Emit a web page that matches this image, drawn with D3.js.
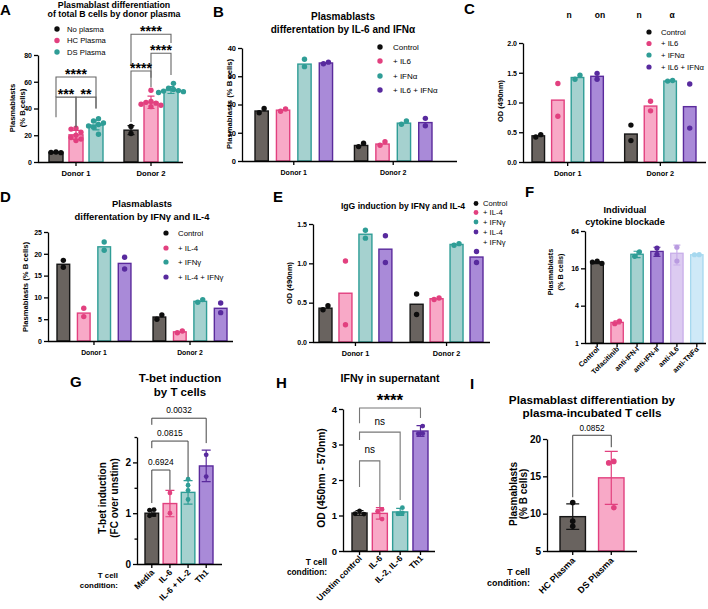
<!DOCTYPE html>
<html><head><meta charset="utf-8">
<script src="https://cdn.jsdelivr.net/npm/d3@7"></script>
<style>body{margin:0;background:#fff}svg{display:block}text{font-family:"Liberation Sans",Arial,Helvetica,sans-serif}</style>
</head><body><svg id="c" width="708" height="609"></svg>
<script>
// ================= DATA =================
const donors = ["Donor 1", "Donor 2"];

// Panel A
const seriesA = ["No plasma", "HC Plasma", "DS Plasma"];
const meanA = [[7.2, 23.8], [20.3, 44.6], [27.6, 53.8]];
const sdA = [[0.4, 3.4], [3.4, 4.6], [3.6, 2.6]];
const ptsA = [
  [[7.0, 7.5, 7.2], [26.5, 21.3]],
  [[25.2, 24.6, 22.2, 20.0, 18.3, 17.2, 16.0], [53.6, 45.2, 44.6, 44.0, 43.2, 42.4, 41.4]],
  [[32.4, 30.6, 29.2, 28.0, 27.0, 26.0, 20.8], [58.8, 55.2, 54.2, 53.4, 53.0, 52.6, 52.0]]
];
const ticksA = [0, 20, 40, 60, 80];
const sigA = [
  { group: 0, from: 0, to: 2, label: "****", top: 63.5, endFrom: 48.5, endTo: 40 },
  { group: 0, from: 0, to: 1, label: "***", top: 48.5, endFrom: 33.5, endTo: 26 },
  { group: 0, from: 1, to: 2, label: "**", top: 48.5, endFrom: 26, endTo: 40 },
  { group: 1, from: 0, to: 2, label: "****", top: 95.5, endFrom: 72, endTo: 89 },
  { group: 1, from: 1, to: 2, label: "****", top: 81.3, endFrom: 63, endTo: 65 },
  { group: 1, from: 0, to: 1, label: "****", top: 68, endFrom: 30, endTo: 56 }
];

// Panel B
const seriesB = ["Control", "+ IL6", "+ IFNα", "+ IL6 + IFNα"];
const meanB = [[17.7, 5.5], [18.0, 6.0], [34.3, 13.4], [34.7, 13.6]];
const ptsB = [[[17.1, 18.6], [5.1, 6.3]], [[17.6, 18.4], [5.6, 6.8]], [[36.0, 33.4], [13.0, 14.2]], [[34.4, 35.0], [15.1, 12.5]]];
const ticksB = [0, 10, 20, 30, 40];

// Panel C
const seriesC = ["Control", "+ IL6", "+ IFNα", "+ IL6 + IFNα"];
const meanC = [[0.44, 0.47], [1.04, 0.94], [1.42, 1.36], [1.44, 0.93]];
const ptsC = [[[0.42, 0.46], [0.62, 0.36]], [[1.32, 0.77], [1.02, 0.86]], [[1.39, 1.46], [1.36, 1.37]], [[1.49, 1.39], [1.31, 0.57]]];
const ticksC = [0, 0.5, 1.0, 1.5, 2.0];
const titleFragsC = ["n", "on", "n", "α"];

// Panel D
const seriesD = ["Control", "+ IL-4", "+ IFNγ", "+ IL-4 + IFNγ"];
const meanD = [[17.6, 5.5], [6.4, 2.1], [21.6, 9.1], [17.8, 7.5]];
const ptsD = [[[18.5, 16.9], [5.0, 6.0]], [[7.5, 5.6], [1.9, 2.3]], [[22.7, 20.8], [8.9, 9.5]], [[19.2, 16.5], [8.7, 6.5]]];
const ticksD = [0, 5, 10, 15, 20, 25];

// Panel E
const legendE = ["Control", "+ IL-4", "+ IFNγ", "+ IL-4", "+ IFNγ"];
const meanE = [[0.43, 0.48], [0.62, 0.55], [1.37, 1.24], [1.18, 1.08]];
const ptsE = [[[0.41, 0.46], [0.61, 0.35]], [[1.03, 0.22], [0.54, 0.56]], [[1.42, 1.32], [1.23, 1.25]], [[1.35, 1.01], [1.15, 1.01]]];
const ticksE = [0, 0.5, 1.0, 1.5];

// Panel F
const catsF = ["Control", "Tofacitinib", "anti-IFN-I", "anti-IFN-II", "anti-IL6", "anti-TNFα"];
const meanF = [19.8, 2.15, 27, 30, 28, 26.5];
const sdF = [0.8, 0.12, 3.2, 5.0, 9.9, 0.3];
const ptsF = [[19.2, 20.2, 20.9], [2.05, 2.25], [29.5, 25], [34, 27], [35, 21], [26.5, 26.6]];
const ticksF = [1, 4, 16, 64];

// Panel G
const catsG = ["Media", "IL-6", "IL-6 + IL-2", "Th1"];
const meanG = [1.0, 1.19, 1.41, 1.93];
const sdG = [0.06, 0.26, 0.23, 0.31];
const ptsG = [[1.07, 1.06, 0.97, 0.95], [1.40, 1.00], [1.67, 1.55, 1.45, 1.27], [2.15, 1.72]];
const ticksG = [0, 1, 2];
const minorG = [0.5, 1.5, 2.5];
const sigG = [
  { to: 3, label: "0.0032", top: 2.87, endFrom: 2.74, endTo: 2.38 },
  { to: 2, label: "0.0815", top: 2.42, endFrom: 2.28, endTo: 1.71 },
  { to: 1, label: "0.6924", top: 1.85, endFrom: 1.2, endTo: 1.46 }
];

// Panel H
const catsH = ["Unstim control", "IL-6", "IL-2, IL-6", "Th1"];
const meanH = [1.07, 1.06, 1.10, 3.38];
const sdH = [0.07, 0.16, 0.10, 0.15];
const ptsH = [[1.13, 1.04, 1.05], [1.17, 1.12, 0.90], [1.22, 1.07, 1.05], [3.52, 3.30, 3.31]];
const ticksH = [0, 1, 2, 3, 4];
const sigH = [
  { to: 3, label: "****", top: 4.03, endFrom: 3.6, endTo: 3.75 },
  { to: 2, label: "ns", top: 3.35, endFrom: 3.13, endTo: 1.44 },
  { to: 1, label: "ns", top: 2.54, endFrom: 1.8, endTo: 1.24 }
];

// Panel I
const catsI = ["HC Plasma", "DS Plasma"];
const meanI = [9.6, 14.8];
const sdI = [1.7, 3.55];
const ptsI = [[11.5, 9.0, 8.3], [17.0, 16.8, 10.8]];
const ticksI = [5, 10, 15, 20];
const sigI = [{ to: 1, label: "0.0852", top: 20.5, endFrom: 12.2, endTo: 18.9 }];

// ================= STYLE =================
const PAL = {
  gray: { fill: "#69635f", stroke: "#151515", pt: "#0d0d0d" },
  pink: { fill: "#f8a9c7", stroke: "#e2407f", pt: "#e2407f" },
  teal: { fill: "#a5d1cf", stroke: "#2f9d96", pt: "#2f9d96" },
  purple: { fill: "#a98ad8", stroke: "#5a2a9c", pt: "#582a9e" },
  lav: { fill: "#dccbf1", stroke: "#c8aee9", pt: "#b99be0" },
  sky: { fill: "#cfe9f7", stroke: "#a6d8ef", pt: "#a6d8ef" }
};
const C4 = [PAL.gray, PAL.pink, PAL.teal, PAL.purple];
const svg = d3.select("#c");

function T(g, x, y, s, o = {}) {
  const t = g.append("text").attr("x", x).attr("y", y).text(s)
    .attr("font-size", o.fs || 8).attr("font-weight", o.bold ? "bold" : "normal")
    .attr("text-anchor", o.anchor || "start").attr("fill", o.fill || "#000");
  if (o.rot) t.attr("transform", `rotate(${o.rot},${x},${y})`);
  return t;
}
function yAxis(g, y, x, ticks, fmt, fs, opts = {}) {
  const ax = d3.axisLeft(y).tickValues(ticks).tickFormat(fmt).tickSize(opts.tick || 4).tickSizeOuter(0).tickPadding(opts.pad || 2);
  const a = g.append("g").attr("transform", `translate(${x},0)`).call(ax);
  a.attr("font-family", null).attr("font-size", null);
  a.select(".domain").attr("stroke", "#000").attr("stroke-width", 1.3);
  a.selectAll(".tick line").attr("stroke", "#000").attr("stroke-width", 1.3);
  a.selectAll(".tick text").attr("font-size", fs).attr("font-weight", "bold").attr("fill", "#000");
  if (opts.minor) {
    const m = d3.axisLeft(y).tickValues(opts.minor).tickFormat("").tickSize(2.5).tickSizeOuter(0);
    const b = g.append("g").attr("transform", `translate(${x},0)`).call(m);
    b.select(".domain").remove();
    b.selectAll(".tick line").attr("stroke", "#000").attr("stroke-width", 1.3);
  }
}
function xAxis(g, xb, y0, x0, x1, fs, o = {}) {
  const ax = d3.axisBottom(xb).tickSize(4).tickSizeOuter(0);
  const a = g.append("g").attr("transform", `translate(0,${y0})`).call(ax);
  a.attr("font-family", null).attr("font-size", null);
  a.select(".domain").attr("d", `M${x0},0.5H${x1}`).attr("stroke", "#000").attr("stroke-width", 1.3);
  a.selectAll(".tick line").attr("stroke", "#000").attr("stroke-width", 1.3);
  const t = a.selectAll(".tick text").attr("font-size", fs).attr("font-weight", "bold").attr("fill", "#000");
  if (o.rot) t.attr("text-anchor", "end").attr("y", 0).attr("dy", 0).attr("transform", `translate(${o.dx},${o.dy}) rotate(-45)`);
  else t.attr("y", o.ly || 13).attr("dy", 0);
}
function swarm(ys, r) {
  const d = 2 * r * 0.92;
  const order = ys.map((y, i) => ({ y, i })).sort((a, b) => a.y - b.y);
  const placed = [];
  order.forEach(p => {
    for (let k = 0; k < 30; k++) {
      const off = k === 0 ? 0 : (k % 2 ? -1 : 1) * Math.ceil(k / 2) * d;
      if (placed.every(q => Math.hypot(q.x - off, q.y - p.y) >= d - 0.01)) { placed.push({ x: off, y: p.y }); break; }
    }
  });
  const ext = d3.extent(placed, q => q.x);
  const c = (ext[0] + ext[1]) / 2;
  placed.forEach(q => q.x -= c);
  return placed;
}
function bar(g, y, cx, w, v, col, sw) {
  const base = y(y.domain()[0]);
  g.append("rect").attr("x", cx - w / 2).attr("y", y(v)).attr("width", w).attr("height", base - y(v))
    .attr("fill", col.fill).attr("stroke", col.stroke).attr("stroke-width", sw || 1.4);
}
function errBar(g, y, cx, m, sd, col, cap) {
  g.append("path").attr("d", `M${cx},${y(m - sd)}V${y(m + sd)}M${cx - cap / 2},${y(m + sd)}H${cx + cap / 2}M${cx - cap / 2},${y(m - sd)}H${cx + cap / 2}`)
    .attr("stroke", col.stroke).attr("stroke-width", 1.2).attr("fill", "none");
}
function dots(g, y, cx, vals, col, r) {
  const pl = swarm(vals.map(v => y(v)), r);
  g.selectAll(null).data(pl).enter().append("circle")
    .attr("cx", d => cx + d.x).attr("cy", d => d.y).attr("r", r).attr("fill", col.pt);
}
function grouped(g, cfg) {
  const xb = d3.scaleBand().domain(cfg.groups).range(cfg.range).paddingInner(cfg.gp).paddingOuter(0);
  const xi = d3.scaleBand().domain(d3.range(cfg.means.length)).range([0, xb.bandwidth()]).paddingInner(cfg.ip).paddingOuter(0);
  const cx = (si, gi) => xb(cfg.groups[gi]) + xi(si) + xi.bandwidth() / 2;
  cfg.means.forEach((row, si) => row.forEach((v, gi) => bar(g, cfg.y, cx(si, gi), xi.bandwidth(), v, cfg.cols[si])));
  if (cfg.sd) cfg.sd.forEach((row, si) => row.forEach((s, gi) => errBar(g, cfg.y, cx(si, gi), cfg.means[si][gi], s, cfg.cols[si], cfg.cap)));
  cfg.pts.forEach((row, si) => row.forEach((vals, gi) => dots(g, cfg.y, cx(si, gi), vals, cfg.cols[si], cfg.r)));
  return { xb, cx };
}
function single(g, cfg) {
  const xb = d3.scaleBand().domain(cfg.cats).range(cfg.range).paddingInner(cfg.p).paddingOuter(0);
  const cx = i => xb(cfg.cats[i]) + xb.bandwidth() / 2;
  cfg.means.forEach((v, i) => bar(g, cfg.y, cx(i), xb.bandwidth(), v, cfg.cols[i], cfg.sw));
  cfg.sd.forEach((s, i) => errBar(g, cfg.y, cx(i), cfg.means[i], s, cfg.cols[i], cfg.cap));
  cfg.pts.forEach((vals, i) => dots(g, cfg.y, cx(i), vals, cfg.cols[i], cfg.r));
  return { xb, cx };
}
function legend(g, x, ys, labels, cols, fs, r, dx) {
  labels.forEach((l, i) => {
    if (cols[i]) g.append("circle").attr("cx", x).attr("cy", ys[i]).attr("r", r).attr("fill", cols[i].pt);
    T(g, x + dx, ys[i] + fs * 0.36, l, { fs });
  });
}
function bracket(g, x1, x2, yTop, y1, y2, label, o) {
  g.append("path").attr("d", `M${x1},${y1}V${yTop}H${x2}V${y2}`).attr("fill", "none")
    .attr("stroke", o.stroke || "#555").attr("stroke-width", o.sw || 1.1);
  T(g, (x1 + x2) / 2, yTop + o.ty, label, { fs: o.fs, bold: o.bold, anchor: "middle" });
}

// ================= PANEL A =================
{
  const g = svg.append("g");
  const y = d3.scaleLinear().domain([0, 80]).range([162, 55]);
  const r = grouped(g, { y, groups: donors, means: meanA, sd: sdA, pts: ptsA, cols: [PAL.gray, PAL.pink, PAL.teal], range: [49, 178], gp: 0.28, ip: 0.3, r: 2.7, cap: 7 });
  yAxis(g, y, 38, ticksA, d3.format("d"), 7);
  xAxis(g, r.xb, 162, 38, 183, 7.7, { ly: 14 });
  sigA.forEach(s => bracket(g, r.cx(s.from, s.group), r.cx(s.to, s.group), y(s.top), y(s.endFrom), y(s.endTo), s.label, { fs: 14, bold: true, ty: 1.5, stroke: "#666" }));
  T(g, 0, 15, "A", { fs: 15, bold: true });
  T(g, 114, 7.5, "Plasmablast differentiation", { fs: 8.8, bold: true, anchor: "middle" });
  T(g, 114, 17, "of total B cells by donor plasma", { fs: 8.8, bold: true, anchor: "middle" });
  legend(g, 57, [29, 40.5, 52], seriesA, [PAL.gray, PAL.pink, PAL.teal], 7.7, 2.7, 10);
  T(g, 15, 108, "Plasmablasts", { fs: 7.6, bold: true, anchor: "middle", rot: -90 });
  T(g, 25, 108, "(% B cells)", { fs: 7.6, bold: true, anchor: "middle", rot: -90 });
}
// ================= PANEL B =================
{
  const g = svg.append("g");
  const y = d3.scaleLinear().domain([0, 40]).range([161, 48]);
  const r = grouped(g, { y, groups: donors, means: meanB, pts: ptsB, cols: C4, range: [255, 432], gp: 0.22, ip: 0.38, r: 2.7 });
  yAxis(g, y, 242, ticksB, d3.format("d"), 7.5);
  xAxis(g, r.xb, 161, 242, 457, 7, { ly: 14 });
  T(g, 213, 17, "B", { fs: 15, bold: true });
  T(g, 343, 19.5, "Plasmablasts", { fs: 10, bold: true, anchor: "middle" });
  T(g, 343, 32.5, "differentation by IL-6 and IFNα", { fs: 10, bold: true, anchor: "middle" });
  legend(g, 380, [47, 61, 76, 90], seriesB, C4, 8, 2.7, 13);
  T(g, 232, 104, "Plasmablasts (% B cells)", { fs: 7.7, bold: true, anchor: "middle", rot: -90 });
}
// ================= PANEL C =================
{
  const g = svg.append("g");
  const y = d3.scaleLinear().domain([0, 2]).range([162, 43]);
  const r = grouped(g, { y, groups: donors, means: meanC, pts: ptsC, cols: C4, range: [532, 696], gp: 0.23, ip: 0.36, r: 2.7 });
  yAxis(g, y, 523, ticksC, d3.format(".1f"), 7);
  xAxis(g, r.xb, 162, 523, 706, 7.3, { ly: 14 });
  T(g, 464, 14, "C", { fs: 15, bold: true });
  [569, 600, 639, 672].forEach((x, i) => T(g, x, 18, titleFragsC[i], { fs: 8.5, bold: true, anchor: "middle" }));
  legend(g, 649, [32, 43.5, 55, 67], seriesC, C4, 7.7, 2.6, 12);
  T(g, 503, 101, "OD (490nm)", { fs: 7.5, bold: true, anchor: "middle", rot: -90 });
}
// ================= PANEL D =================
{
  const g = svg.append("g");
  const y = d3.scaleLinear().domain([0, 25]).range([341, 232]);
  const r = grouped(g, { y, groups: donors, means: meanD, pts: ptsD, cols: C4, range: [57, 227], gp: 0.23, ip: 0.38, r: 2.7 });
  yAxis(g, y, 48, ticksD, d3.format("d"), 7);
  xAxis(g, r.xb, 341, 48, 233, 6.8, { ly: 14 });
  T(g, 0, 202, "D", { fs: 15, bold: true });
  T(g, 142, 207, "Plasmablasts", { fs: 9.4, bold: true, anchor: "middle" });
  T(g, 142, 219.5, "differentation by IFNγ and IL-4", { fs: 9.4, bold: true, anchor: "middle" });
  legend(g, 166, [233, 248, 262, 277], seriesD, C4, 7.8, 2.6, 12);
  T(g, 28, 287, "Plasmablasts (% B cells)", { fs: 7.7, bold: true, anchor: "middle", rot: -90 });
}
// ================= PANEL E =================
{
  const g = svg.append("g");
  const y = d3.scaleLinear().domain([0, 1.5]).range([342, 224]);
  const r = grouped(g, { y, groups: donors, means: meanE, pts: ptsE, cols: C4, range: [319, 483], gp: 0.2, ip: 0.35, r: 2.7 });
  yAxis(g, y, 313, ticksE, d3.format(".1f"), 7);
  xAxis(g, r.xb, 342, 313, 490, 7.3, { ly: 14 });
  T(g, 273, 202, "E", { fs: 15, bold: true });
  T(g, 403, 208.5, "IgG induction by IFNγ and IL-4", { fs: 8.6, bold: true, anchor: "middle" });
  legend(g, 476, [203.5, 212.5, 222, 232, 242], legendE, [C4[0], C4[1], C4[2], C4[3], null], 7.6, 2.4, 7);
  T(g, 292, 283, "OD (490nm)", { fs: 7.5, bold: true, anchor: "middle", rot: -90 });
}
// ================= PANEL F =================
{
  const g = svg.append("g");
  const y = d3.scaleLog().base(2).domain([1, 64]).range([343, 231]);
  const r = single(g, { y, cats: catsF, means: meanF, sd: sdF, pts: ptsF, cols: [PAL.gray, PAL.pink, PAL.teal, PAL.purple, PAL.lav, PAL.sky], range: [591, 703], p: 0.38, r: 2.6, cap: 7, sw: 1.3 });
  yAxis(g, y, 585, ticksF, d3.format("d"), 7);
  xAxis(g, r.xb, 343, 585, 706, 7.2, { rot: true, dx: 2.5, dy: 6.5 });
  T(g, 525, 197, "F", { fs: 15, bold: true });
  T(g, 625, 213, "Individual", { fs: 9.2, bold: true, anchor: "middle" });
  T(g, 625, 225, "cytokine blockade", { fs: 9.2, bold: true, anchor: "middle" });
  T(g, 553, 272, "Plasmablasts", { fs: 7.3, bold: true, anchor: "middle", rot: -90 });
  T(g, 563, 272, "(% B cells)", { fs: 7.3, bold: true, anchor: "middle", rot: -90 });
}
// ================= PANEL G =================
{
  const g = svg.append("g");
  const y = d3.scaleLinear().domain([0, 2.5]).range([564, 437]);
  const r = single(g, { y, cats: catsG, means: meanG, sd: sdG, pts: ptsG, cols: C4, range: [145, 213], p: 0.25, r: 2.4, cap: 9 });
  yAxis(g, y, 137, ticksG, d3.format("d"), 10, { minor: minorG });
  xAxis(g, r.xb, 564, 137, 222, 8.5, { rot: true, dx: 3, dy: 9 });
  sigG.forEach(s => bracket(g, r.cx(0), r.cx(s.to), y(s.top), y(s.endFrom), y(s.endTo), s.label, { fs: 8.4, ty: -5, stroke: "#444", sw: 1 }));
  T(g, 70, 387, "G", { fs: 15, bold: true });
  T(g, 180, 382, "T-bet induction", { fs: 11.5, bold: true, anchor: "middle" });
  T(g, 180, 396, "by T cells", { fs: 11.5, bold: true, anchor: "middle" });
  T(g, 106, 498, "T-bet induction", { fs: 10, bold: true, anchor: "middle", rot: -90 });
  T(g, 118, 498, "(FC over unstim)", { fs: 10, bold: true, anchor: "middle", rot: -90 });
  T(g, 118, 578, "T cell", { fs: 7.9, bold: true, anchor: "end" });
  T(g, 118, 588, "condition:", { fs: 7.9, bold: true, anchor: "end" });
}
// ================= PANEL H =================
{
  const g = svg.append("g");
  const y = d3.scaleLinear().domain([0, 4]).range([551, 409]);
  const r = single(g, { y, cats: catsH, means: meanH, sd: sdH, pts: ptsH, cols: C4, range: [352, 428], p: 0.26, r: 2.4, cap: 8 });
  yAxis(g, y, 343, ticksH, d3.format("d"), 9.5);
  xAxis(g, r.xb, 551, 343, 435, 8.5, { rot: true, dx: 3, dy: 8 });
  sigH.forEach(s => {
    const ast = s.label === "****";
    bracket(g, r.cx(0), r.cx(s.to), y(s.top), y(s.endFrom), y(s.endTo), s.label, { fs: ast ? 17 : 10, bold: ast, ty: ast ? -1.5 : -7.5, stroke: "#777", sw: 1.1 });
  });
  T(g, 276, 388, "H", { fs: 15, bold: true });
  T(g, 390, 382, "IFNγ in supernatant", { fs: 10.6, bold: true, anchor: "middle" });
  T(g, 325, 478, "OD (450nm - 570nm)", { fs: 10.3, bold: true, anchor: "middle", rot: -90 });
  T(g, 327, 565, "T cell", { fs: 8.3, bold: true, anchor: "end" });
  T(g, 327, 575, "condition:", { fs: 8.3, bold: true, anchor: "end" });
}
// ================= PANEL I =================
{
  const g = svg.append("g");
  const y = d3.scaleLinear().domain([5, 20]).range([551, 439]);
  const r = single(g, { y, cats: catsI, means: meanI, sd: sdI, pts: ptsI, cols: [PAL.gray, PAL.pink], range: [560, 624], p: 0.34, r: 2.8, cap: 13 });
  yAxis(g, y, 547, ticksI, d3.format("d"), 10);
  xAxis(g, r.xb, 551, 547, 637, 9, { rot: true, dx: 3, dy: 10 });
  sigI.forEach(s => bracket(g, r.cx(0), r.cx(s.to), y(s.top), y(s.endFrom), y(s.endTo), s.label, { fs: 8.2, ty: -4.7, stroke: "#444", sw: 1 }));
  T(g, 470, 389, "I", { fs: 15, bold: true });
  T(g, 592, 403.5, "Plasmablast differentiation by", { fs: 11.7, bold: true, anchor: "middle" });
  T(g, 592, 416.5, "plasma-incubated T cells", { fs: 11.7, bold: true, anchor: "middle" });
  T(g, 517, 494, "Plasmablasts", { fs: 10, bold: true, anchor: "middle", rot: -90 });
  T(g, 527, 494, "(% B cells)", { fs: 10, bold: true, anchor: "middle", rot: -90 });
  T(g, 530, 575, "T cell", { fs: 8.9, bold: true, anchor: "end" });
  T(g, 530, 586, "condition:", { fs: 8.9, bold: true, anchor: "end" });
}
</script></body></html>
